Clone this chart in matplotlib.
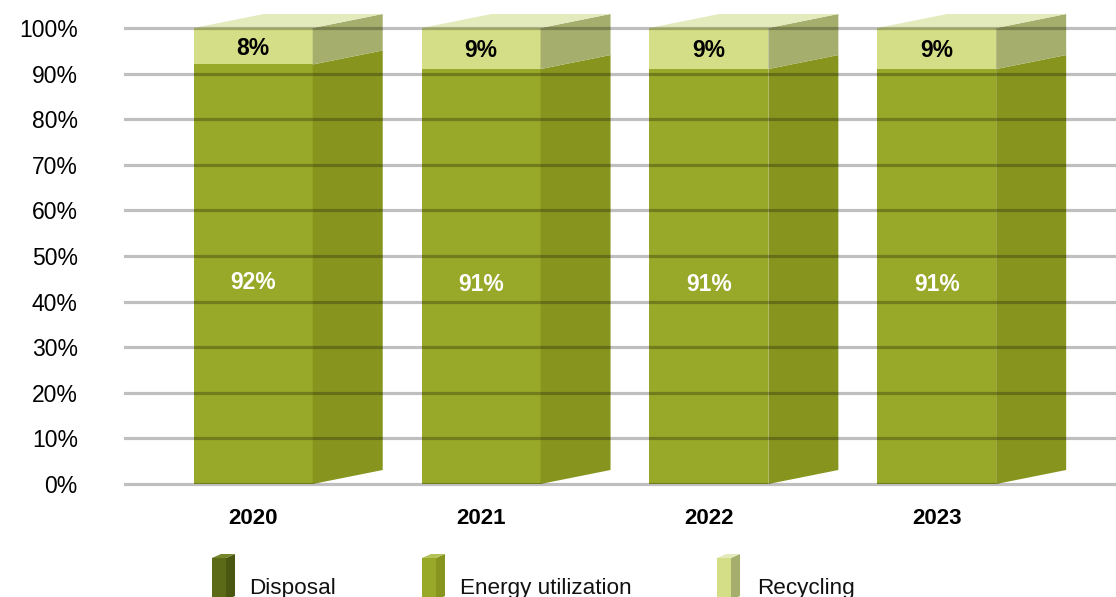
import numpy as np
import matplotlib
matplotlib.use("Agg")
import matplotlib.pyplot as plt
from matplotlib.patches import Polygon

plt.rcParams['font.family'] = ['Liberation Sans', 'DejaVu Sans']

# ---- data ----
years = ['2020', '2021', '2022', '2023']
disposal = [0, 0, 0, 0]
energy = [92, 91, 91, 91]
recycling = [8, 9, 9, 9]
series_names = ['Disposal', 'Energy utilization', 'Recycling']
yticks = [0, 10, 20, 30, 40, 50, 60, 70, 80, 90, 100]

# ---- styles ----
front_c = ['#5b6a17', '#98a828', '#d3de86']
side_c = ['#4a5710', '#87951f', '#a5ae6c']
top_c = ['#75852a', '#b5c25a', '#e3eabc']
label_c = ['white', 'white', 'black']
label_off = [-6, -6, -1.5]   # vertical offset of value labels, points

W, H = 1116, 597
fig = plt.figure(figsize=(W / 100, H / 100), dpi=100)
ax_l, ax_b, ax_w, ax_h = 125, 113, 991, 456
ax = fig.add_axes([ax_l / W, ax_b / H, ax_w / W, ax_h / H])
ax.set_xlim(-0.563, 3.787)
ax.set_ylim(0, 100)

width = 0.522
depth_px = (70, 14)
xspan = ax.get_xlim()[1] - ax.get_xlim()[0]
dx = depth_px[0] * xspan / ax_w
dy = depth_px[1] * 100 / ax_h

x = np.arange(len(years))
data = [disposal, energy, recycling]
bottoms = np.zeros(len(years))
for si, vals in enumerate(data):
    vals = np.array(vals, dtype=float)
    ax.bar(x, vals, width, bottom=bottoms, color=front_c[si], zorder=2,
           linewidth=0)
    for i in range(len(years)):
        if vals[i] <= 0:
            continue
        b = bottoms[i]
        t = b + vals[i]
        xr = x[i] + width / 2
        side = Polygon([(xr, b), (xr + dx, b + dy), (xr + dx, t + dy), (xr, t)],
                       closed=True, facecolor=side_c[si], edgecolor='none',
                       zorder=2, clip_on=False)
        ax.add_patch(side)
        ax.annotate(f'{int(vals[i])}%', xy=(x[i], b + vals[i] / 2),
                    xytext=(0, label_off[si]), textcoords='offset points',
                    ha='center', va='center', fontsize=16.5, fontweight='bold',
                    color=label_c[si], zorder=6)
    bottoms = bottoms + vals

# top faces (on top-most non-zero segment)
for i in range(len(years)):
    t = bottoms[i]
    xl = x[i] - width / 2
    xr = x[i] + width / 2
    top_series = max(si for si in range(len(data)) if data[si][i] > 0)
    topf = Polygon([(xl, t), (xr, t), (xr + dx, t + dy), (xl + dx, t + dy)],
                   closed=True, facecolor=top_c[top_series], edgecolor='none',
                   zorder=2, clip_on=False)
    ax.add_patch(topf)

# gridlines on top
for yv in yticks:
    ax.axhline(yv, color='black', alpha=0.25, lw=2.3, zorder=5, clip_on=False)

ax.set_yticks(yticks)
ax.set_yticklabels([f'{v}%' for v in yticks], fontsize=16.5)
ax.set_xticks(x)
ax.set_xticklabels(years, fontsize=16, fontweight='bold')
ax.tick_params(axis='y', length=0, pad=34)
ax.tick_params(axis='x', length=0, pad=17)
for s in ax.spines.values():
    s.set_visible(False)

# ---- legend (custom 3D icons) ----
def px(xp, yp):
    return (xp / W, 1 - yp / H)

icon_x = [212, 422, 717]
text_x = [249, 460, 757]
for si, name in enumerate(series_names):
    x0 = icon_x[si]
    fw, sw, sh = 14, 9, 4
    ytop, ybot = 558, 600
    front = Polygon([px(x0, ytop), px(x0 + fw, ytop), px(x0 + fw, ybot), px(x0, ybot)],
                    closed=True, transform=fig.transFigure, facecolor=front_c[si],
                    edgecolor='none')
    side = Polygon([px(x0 + fw, ytop), px(x0 + fw + sw, ytop - sh),
                    px(x0 + fw + sw, ybot - sh), px(x0 + fw, ybot)],
                   closed=True, transform=fig.transFigure, facecolor=side_c[si],
                   edgecolor='none')
    topp = Polygon([px(x0, ytop), px(x0 + fw, ytop), px(x0 + fw + sw, ytop - sh),
                    px(x0 + sw, ytop - sh)],
                   closed=True, transform=fig.transFigure, facecolor=top_c[si],
                   edgecolor='none')
    fig.add_artist(front)
    fig.add_artist(side)
    fig.add_artist(topp)
    fig.text(*px(text_x[si], 594), name, fontsize=16.2, ha='left', va='baseline',
             color='#111111')

fig.savefig('out.png', dpi=100)
